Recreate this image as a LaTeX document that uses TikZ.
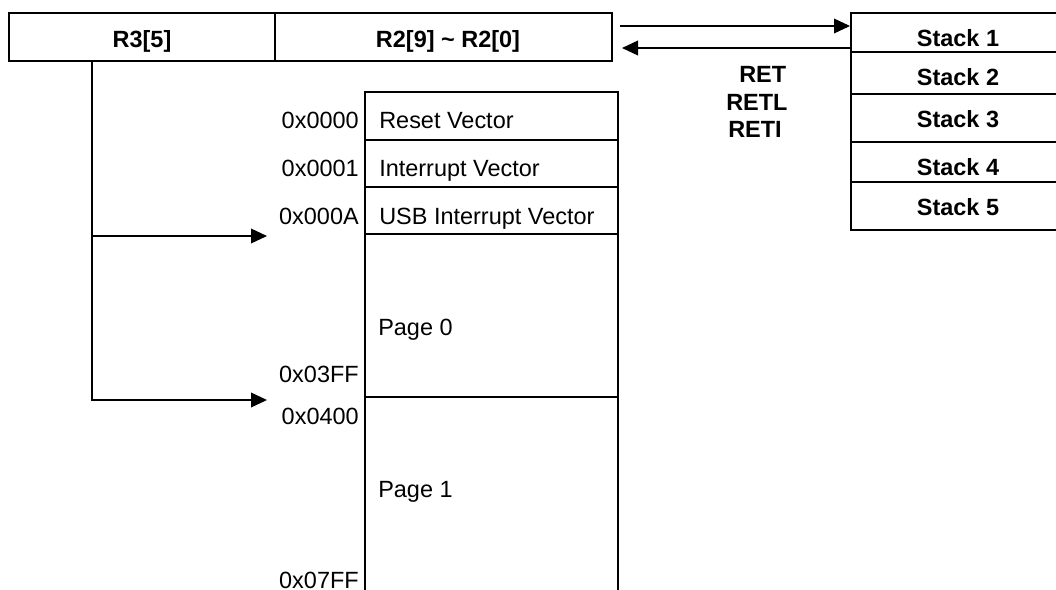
\documentclass[tikz,border=0pt]{standalone}
\usepackage{fontspec}
\setmainfont{Liberation Sans}
\usetikzlibrary{arrows.meta}
\begin{document}
\begin{tikzpicture}[x=0.75pt,y=-0.75pt,
  box/.style={line width=1.1pt},
  conn/.style={line width=1.1pt,-{Triangle[length=12pt,width=11pt]}},
  lbl/.style={font=\fontsize{17.6}{20}\selectfont, inner sep=0pt, anchor=base},
  blbl/.style={lbl, font=\fontsize{17.6}{20}\selectfont\bfseries},
  addr/.style={lbl, anchor=base east},
  mem/.style={lbl, anchor=base west}]
\useasboundingbox (0,0) rectangle (1056,589);
\clip (0,0) rectangle (1056,589);
% register
\draw[box] (9,13) rectangle (612,61);
\draw[box] (275,13) -- (275,61);
\node[blbl] (r3) at (142,47) {R3[5]};
\node[blbl] (r2) at (448,47) {R2[9] \textasciitilde{} R2[0]};
% stack
\draw[box] (851,13) rectangle (1072,230);
\foreach \yy in {52,94,142,182} \draw[box] (851,\yy) -- (1072,\yy);
\node[blbl] (s1) at (958,46) {Stack 1};
\node[blbl] (s2) at (958,85) {Stack 2};
\node[blbl] (s3) at (958,127) {Stack 3};
\node[blbl] (s4) at (958,175) {Stack 4};
\node[blbl] (s5) at (958,215) {Stack 5};
\node[blbl, anchor=base west] (ret) at (739,82) {RET};
\node[blbl, anchor=base west] (retl) at (726,110) {RETL};
\node[blbl, anchor=base west] (reti) at (728,137) {RETI};
% memory map
\draw[box] (365,92) rectangle (618,397);
\foreach \yy in {140,187,234} \draw[box] (365,\yy) -- (618,\yy);
\draw[box] (365,397) -- (365,600);
\draw[box] (618,397) -- (618,600);
\node[addr] (m0) at (359,128) {0x0000};
\node[addr] (m1) at (359,176) {0x0001};
\node[addr] (m2) at (359,224) {0x000A};
\node[addr] (m3) at (359,382) {0x03FF};
\node[addr] (m4) at (359,424) {0x0400};
\node[addr] (m5) at (359,588) {0x07FF};
\node[mem] (rv) at (379,128) {Reset Vector};
\node[mem] (iv) at (379,176) {Interrupt Vector};
\node[mem] (uv) at (379,224) {USB Interrupt Vector};
\node[mem] (p0) at (378,335) {Page 0};
\node[mem] (p1) at (378,497) {Page 1};
% connectors
\coordinate (br) at (92,61);
\coordinate (a0) at (267,236);
\coordinate (a1) at (267,400);
\draw[conn] (br) |- (a1);
\draw[conn] (br |- a0) -- (a0);
\coordinate (outA) at (620,26);
\coordinate (inA) at (850,26);
\coordinate (outB) at (851,48);
\coordinate (inB) at (622,48);
\draw[conn] (outA) -- (inA);
\draw[conn] (outB) -- (inB);
\end{tikzpicture}
\end{document}
